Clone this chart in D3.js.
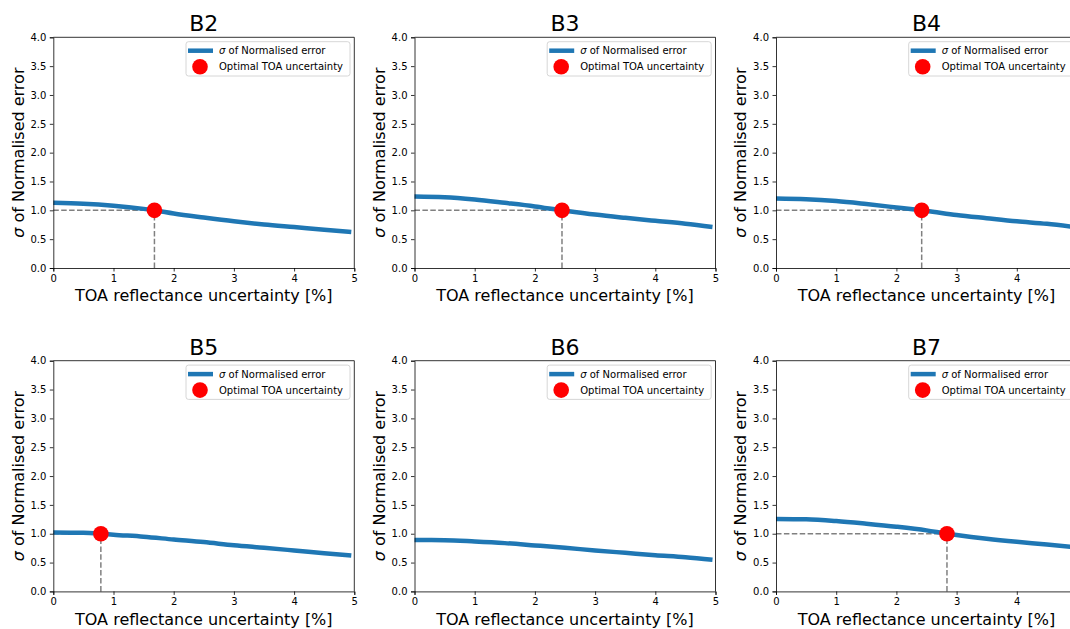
<!DOCTYPE html>
<html>

<head>
    <title>Optimal TOA uncertainty per band</title>
    <script src="https://d3js.org/d3.v7.min.js"></script>
    <style>
        body {
            margin: 0;
            background: #fff;
        }

        svg text {
            font-family: "DejaVu Sans", sans-serif;
        }

        .tick text {
            font-size: 10px;
            fill: #000;
        }

        .domain,
        .tick line {
            stroke: #000;
            stroke-width: 0.8;
        }
    </style>
</head>

<body>
    <div id="svg"></div>
    <script>
        // x positions where the curves were read (TOA reflectance uncertainty, %)
        var xs = [0, 0.5, 1, 1.5, 2, 2.5, 3, 3.5, 4, 4.5, 4.95];

        var bands = ["B2", "B3", "B4", "B5", "B6", "B7"];

        // sigma of normalised error
        var sigmaB2 = [1.13, 1.115, 1.08, 1.025, 0.945, 0.875, 0.81, 0.755, 0.71, 0.665, 0.625];
        var sigmaB3 = [1.24, 1.228, 1.188, 1.13, 1.068, 0.993, 0.926, 0.87, 0.818, 0.767, 0.71];
        var sigmaB4 = [1.205, 1.193, 1.16, 1.108, 1.05, 0.99, 0.92, 0.864, 0.81, 0.766, 0.71];
        var sigmaB5 = [1.023, 1.017, 0.983, 0.948, 0.90, 0.855, 0.80, 0.756, 0.71, 0.663, 0.622];
        var sigmaB6 = [0.89, 0.888, 0.866, 0.837, 0.797, 0.756, 0.71, 0.669, 0.628, 0.593, 0.547];
        var sigmaB7 = [1.256, 1.25, 1.22, 1.174, 1.122, 1.058, 0.977, 0.913, 0.86, 0.814, 0.767];

        // where sigma crosses 1 (B6 never does)
        var optimalX = [1.68, 2.45, 2.42, 0.79, null, 2.84];

        var sigmas = [sigmaB2, sigmaB3, sigmaB4, sigmaB5, sigmaB6, sigmaB7];

        var xTicks = [0, 1, 2, 3, 4, 5];
        var yTicks = [0, 0.5, 1, 1.5, 2, 2.5, 3, 3.5, 4];

        var W = 1070, H = 629;
        var panelW = 301, panelH = 230.7;
        var colLeft = [53.3, 414.5, 776];
        var rowTop = [37.3, 360.7];

        var svg = d3.select("#svg")
            .append("svg")
            .attr("width", W)
            .attr("height", H);

        var x = d3.scaleLinear().domain([0, 5]).range([0, panelW]);
        var y = d3.scaleLinear().domain([0, 4]).range([panelH, 0]);

        var line = d3.line()
            .x(function (d) { return x(d[0]); })
            .y(function (d) { return y(d[1]); })
            .curve(d3.curveMonotoneX);

        bands.forEach(function (band, i) {
            var left = colLeft[i % 3];
            var g = svg.append("g")
                .attr("transform", "translate(" + left + "," + rowTop[Math.floor(i / 3)] + ")");

            var ox = optimalX[i];
            var pts = xs.map(function (v, j) { return [v, sigmas[i][j]]; });
            if (ox !== null) {
                pts.push([ox, 1]);
                pts.sort(function (a, b) { return a[0] - b[0]; });
            }

            // dashed guides to the optimal point
            if (ox !== null) {
                g.append("line")
                    .attr("x1", x(0)).attr("x2", x(ox))
                    .attr("y1", y(1)).attr("y2", y(1))
                    .style("stroke", "#808080").style("stroke-width", 1.5)
                    .style("stroke-dasharray", "5.5,2.4");
                g.append("line")
                    .attr("x1", x(ox)).attr("x2", x(ox))
                    .attr("y1", y(0)).attr("y2", y(1))
                    .style("stroke", "#808080").style("stroke-width", 1.5)
                    .style("stroke-dasharray", "5.5,2.4");
            }

            g.append("path")
                .datum(pts)
                .attr("d", line)
                .style("fill", "none")
                .style("stroke", "#1f77b4")
                .style("stroke-width", 4.5);

            if (ox !== null) {
                g.append("circle")
                    .attr("cx", x(ox)).attr("cy", y(1))
                    .attr("r", 7.8)
                    .style("fill", "red");
            }

            // axes (ticks past the page edge are not drawn)
            var shownX = xTicks.filter(function (t) { return left + x(t) < W - 4; });
            g.append("g")
                .attr("transform", "translate(0," + panelH + ")")
                .call(d3.axisBottom(x).tickValues(shownX).tickSize(3.5).tickPadding(3.5).tickFormat(d3.format("d")));
            g.append("g")
                .call(d3.axisLeft(y).tickValues(yTicks).tickSize(3.5).tickPadding(3.5).tickFormat(d3.format(".1f")));
            // top and right spines
            g.append("line").attr("x1", 0).attr("x2", panelW).attr("y1", 0).attr("y2", 0)
                .style("stroke", "#000").style("stroke-width", 0.8);
            g.append("line").attr("x1", panelW).attr("x2", panelW).attr("y1", 0).attr("y2", panelH)
                .style("stroke", "#000").style("stroke-width", 0.8);

            // title
            g.append("text")
                .attr("x", panelW / 2).attr("y", -6)
                .style("text-anchor", "middle")
                .style("font-size", "22px")
                .text(band);

            // axis labels
            g.append("text")
                .attr("x", panelW / 2).attr("y", panelH + 33.5)
                .style("text-anchor", "middle")
                .style("font-size", "16px")
                .text("TOA reflectance uncertainty [%]");

            var yl = g.append("text")
                .attr("transform", "translate(-29.8," + (panelH / 2) + ") rotate(-90)")
                .style("text-anchor", "middle")
                .style("font-size", "16px");
            yl.append("tspan").style("font-style", "italic").text("σ");
            yl.append("tspan").text(" of Normalised error");

            // legend
            var lg = g.append("g").attr("transform", "translate(" + (panelW - 168.3) + ",4.4)");
            lg.append("rect")
                .attr("width", 164).attr("height", 34.3)
                .attr("rx", 2.5)
                .style("fill", "#fff").style("fill-opacity", 0.8)
                .style("stroke", "#cccccc").style("stroke-width", 0.8);
            lg.append("line")
                .attr("x1", 2).attr("x2", 27).attr("y1", 9).attr("y2", 9)
                .style("stroke", "#1f77b4").style("stroke-width", 4.5);
            var t1 = lg.append("text").attr("x", 33).attr("y", 12.5).style("font-size", "10px");
            t1.append("tspan").style("font-style", "italic").text("σ");
            t1.append("tspan").text(" of Normalised error");
            lg.append("circle")
                .attr("cx", 14).attr("cy", 25).attr("r", 7.8)
                .style("fill", "red");
            lg.append("text").attr("x", 33).attr("y", 28.5).style("font-size", "10px")
                .text("Optimal TOA uncertainty");
        });
    </script>

</body>

</html>
